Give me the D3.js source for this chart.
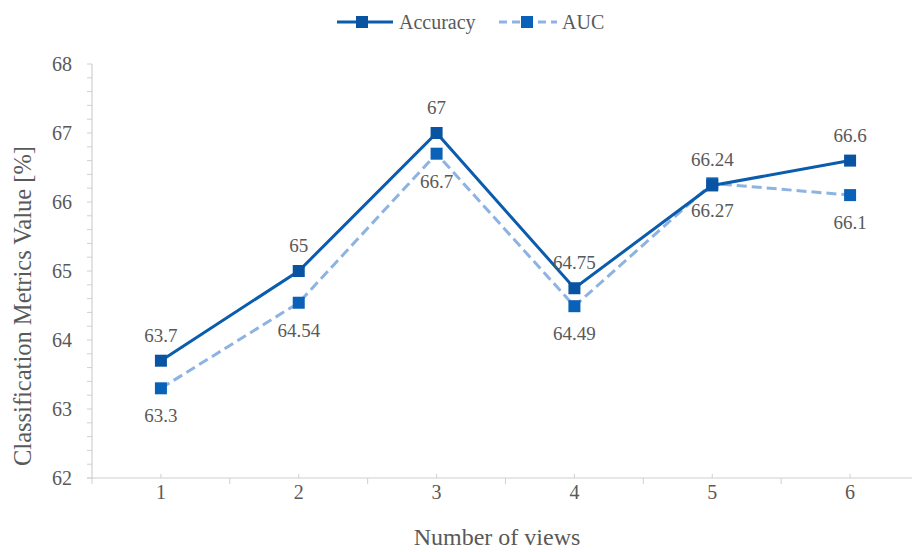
<!DOCTYPE html>
<html><head><meta charset="utf-8">
<script src="https://cdn.jsdelivr.net/npm/d3@7"></script>
<style>body{margin:0;background:#fff}svg{display:block}
svg text{font-family:"Liberation Serif","Times New Roman","DejaVu Serif",serif !important;}</style>
</head><body>
<svg id="chart" width="912" height="552"></svg>
<script>
const categories = ["1","2","3","4","5","6"];
const accuracy = [63.7, 65, 67, 64.75, 66.24, 66.6];
const auc = [63.3, 64.54, 66.7, 64.49, 66.27, 66.1];
const yTicks = [62, 63, 64, 65, 66, 67, 68];

const svg = d3.select("#chart");
const grey = "#595959";
const axisCol = "#d0d0d0";

const x = d3.scaleBand().domain(categories).range([92, 919]);
const y = d3.scaleLinear().domain([62, 68]).range([478, 64]);
const cx = d => x(d) + x.bandwidth() / 2;

// y axis line + ticks
svg.append("line").attr("x1", 92).attr("x2", 92).attr("y1", y(68)).attr("y2", y(62))
  .attr("stroke", axisCol).attr("stroke-width", 1.2);
const minor = d3.range(62, 68.001, 0.2);
svg.selectAll(".ymin").data(minor).join("line")
  .attr("x1", 87).attr("x2", 92).attr("y1", d => y(d)).attr("y2", d => y(d))
  .attr("stroke", axisCol).attr("stroke-width", 1);
svg.selectAll(".ylab").data(yTicks).join("text")
  .attr("x", 72).attr("y", d => y(d)).attr("dy", "0.35em").attr("text-anchor", "end")
  .attr("font-size", 20).attr("fill", grey).text(d => d);

// x axis line + ticks
svg.append("line").attr("x1", 87).attr("x2", 912).attr("y1", 478).attr("y2", 478)
  .attr("stroke", axisCol).attr("stroke-width", 1.2);
const bounds = categories.map(c => x(c)).concat([x(categories[categories.length-1]) + x.bandwidth()]);
svg.selectAll(".xmaj").data(bounds).join("line")
  .attr("x1", d => d).attr("x2", d => d).attr("y1", 478).attr("y2", 484)
  .attr("stroke", axisCol).attr("stroke-width", 1);
svg.selectAll(".xmin").data(categories).join("line")
  .attr("x1", d => cx(d)).attr("x2", d => cx(d)).attr("y1", 474).attr("y2", 478)
  .attr("stroke", axisCol).attr("stroke-width", 1);
svg.selectAll(".xlab").data(categories).join("text")
  .attr("x", d => cx(d)).attr("y", 499).attr("text-anchor", "middle")
  .attr("font-size", 20).attr("fill", grey).text(d => d);

// axis titles
svg.append("text").attr("x", 497).attr("y", 545).attr("text-anchor", "middle")
  .attr("font-size", 24).attr("fill", grey).text("Number of views");
svg.append("text").attr("transform", "translate(31,306) rotate(-90)").attr("text-anchor", "middle")
  .attr("font-size", 24.5).attr("fill", grey).text("Classification Metrics Value [%]");

const line = d3.line().x((d, i) => cx(categories[i])).y(d => y(d));

// AUC
svg.append("path").datum(auc).attr("d", line).attr("fill", "none")
  .attr("stroke", "#8db3e2").attr("stroke-width", 3).attr("stroke-dasharray", "10,5");
// Accuracy
svg.append("path").datum(accuracy).attr("d", line).attr("fill", "none")
  .attr("stroke", "#0b5cad").attr("stroke-width", 3);

const ms = 12;
svg.selectAll(".mauc").data(auc).join("rect")
  .attr("x", (d, i) => cx(categories[i]) - ms/2).attr("y", d => y(d) - ms/2)
  .attr("width", ms).attr("height", ms).attr("fill", "#0a62b8");
svg.selectAll(".macc").data(accuracy).join("rect")
  .attr("x", (d, i) => cx(categories[i]) - ms/2).attr("y", d => y(d) - ms/2)
  .attr("width", ms).attr("height", ms).attr("fill", "#0954a2");

// data labels
svg.selectAll(".lacc").data(accuracy).join("text")
  .attr("x", (d, i) => cx(categories[i])).attr("y", d => y(d) - 19)
  .attr("text-anchor", "middle").attr("font-size", 19).attr("fill", grey)
  .text(d => d);
svg.selectAll(".lauc").data(auc).join("text")
  .attr("x", (d, i) => cx(categories[i])).attr("y", d => y(d) + 34)
  .attr("text-anchor", "middle").attr("font-size", 19).attr("fill", grey)
  .text(d => d);

// legend
const lg = svg.append("g");
lg.append("line").attr("x1", 337).attr("x2", 393).attr("y1", 22).attr("y2", 22)
  .attr("stroke", "#0b5cad").attr("stroke-width", 3);
lg.append("rect").attr("x", 362 - 6).attr("y", 16).attr("width", 12).attr("height", 12).attr("fill", "#0954a2");
lg.append("text").attr("x", 399).attr("y", 22).attr("dy", "0.35em")
  .attr("font-size", 20).attr("fill", grey).text("Accuracy");
lg.append("line").attr("x1", 499).attr("x2", 557).attr("y1", 22).attr("y2", 22)
  .attr("stroke", "#8db3e2").attr("stroke-width", 3).attr("stroke-dasharray", "8,5");
lg.append("rect").attr("x", 527 - 6).attr("y", 16).attr("width", 12).attr("height", 12).attr("fill", "#0a62b8");
lg.append("text").attr("x", 562).attr("y", 22).attr("dy", "0.35em")
  .attr("font-size", 20).attr("fill", grey).text("AUC");
</script>
</body></html>
